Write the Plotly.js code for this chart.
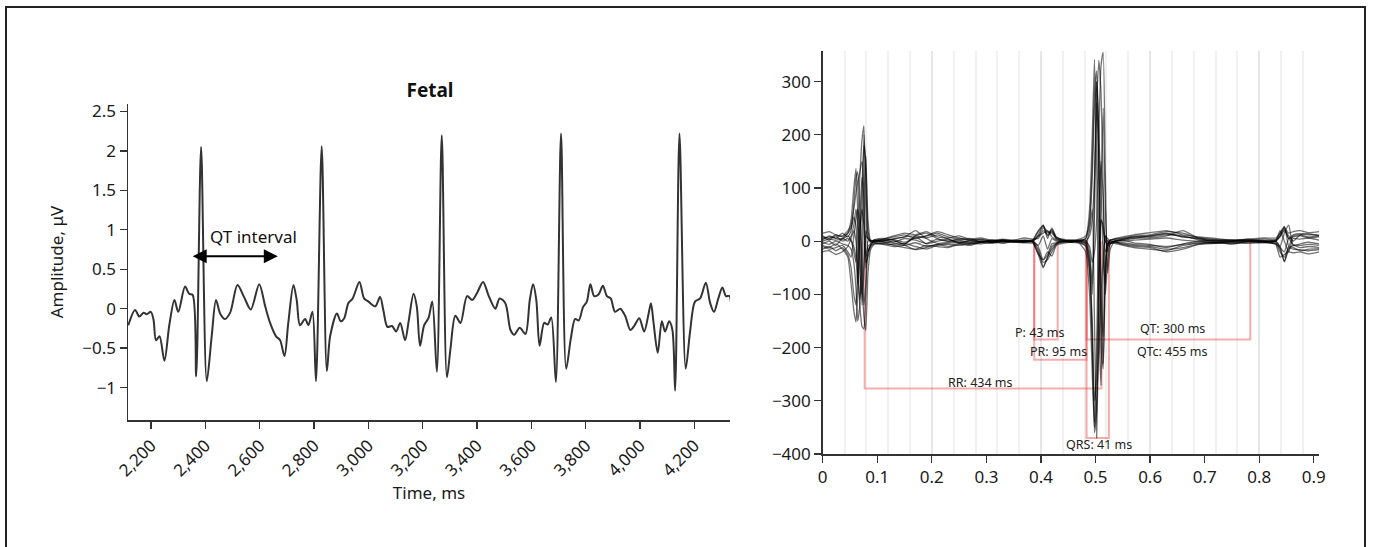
<!DOCTYPE html>
<html>
<head>
<meta charset="utf-8">
<script src="https://cdn.plot.ly/plotly-3.0.1.min.js"></script>
<style>html,body{margin:0;padding:0;background:#fff;}#chart{width:1373px;height:547px;}</style>
</head>
<body>
<div id="chart"></div>
<script>
// ---------- Left panel: fetal ECG ----------
const fetalTime = [2116,2141,2157,2172,2184,2199,2209,2218,2231,2249,2267,2286,2300,2325,2340,2353,2366,2384,2405,2423,2439,2454,2472,2491,2518,2542,2567,2598,2620,2638,2660,2675,2691,2705,2724,2736,2748,2767,2779,2794,2807,2828,2847,2859,2884,2898,2911,2926,2942,2967,2984,3000,3025,3043,3055,3070,3087,3102,3117,3135,3148,3166,3178,3190,3205,3221,3235,3252,3270,3289,3302,3320,3339,3363,3382,3400,3422,3443,3467,3483,3504,3523,3537,3557,3578,3594,3606,3618,3630,3647,3660,3673,3690,3709,3728,3745,3761,3774,3790,3804,3817,3831,3847,3863,3878,3892,3908,3927,3945,3964,3978,3997,4015,4031,4040,4049,4065,4080,4092,4107,4119,4129,4145,4168,4184,4202,4221,4242,4258,4272,4288,4303,4316,4329,4336];
const fetalAmp = [-0.21,-0.015,-0.10,-0.05,-0.07,-0.04,-0.14,-0.40,-0.35,-0.66,-0.21,0.11,-0.04,0.28,0.19,0.175,-0.86,2.05,-0.92,-0.35,0.11,-0.06,-0.13,-0.05,0.30,0.15,-0.01,0.31,0.03,-0.18,-0.35,-0.40,-0.60,-0.18,0.30,0.11,-0.21,-0.13,-0.21,-0.04,-0.92,2.06,-0.79,-0.35,-0.06,-0.16,-0.12,0.07,0.13,0.34,0.13,0.09,0.03,0.15,-0.02,-0.23,-0.22,-0.29,-0.18,-0.40,-0.16,0.19,0.03,-0.47,-0.21,-0.12,0.09,-0.80,2.20,-0.87,-0.51,-0.09,-0.18,0.16,0.11,0.20,0.34,0.16,0.0,0.13,0.07,-0.27,-0.33,-0.24,-0.32,0.11,0.31,0.11,-0.47,-0.18,-0.20,-0.11,-0.93,2.22,-0.76,-0.38,-0.13,-0.15,0.02,0.09,0.31,0.16,0.18,0.29,0.16,0.13,-0.04,0.0,-0.09,-0.27,-0.22,-0.12,-0.29,-0.07,0.07,-0.16,-0.56,-0.16,-0.29,-0.16,-0.27,-1.04,2.22,-0.76,-0.29,0.09,0.13,0.33,0.07,-0.04,0.13,0.27,0.16,0.16,-0.12];
const fetalTicks = [2200,2400,2600,2800,3000,3200,3400,3600,3800,4000,4200];
const qtArrowStart = 2353, qtArrowEnd = 2672, qtArrowLevel = 0.664;

// ---------- Right panel: overlaid beats ----------
const beatTime = [0,0.012,0.024,0.036,0.046,0.052,0.057,0.061,0.064,0.068,0.072,0.0755,0.079,0.083,0.088,0.095,0.11,0.13,0.15,0.17,0.19,0.21,0.23,0.25,0.27,0.29,0.31,0.33,0.35,0.37,0.385,0.395,0.404,0.412,0.42,0.428,0.44,0.455,0.47,0.482,0.489,0.494,0.498,0.502,0.506,0.51,0.514,0.518,0.522,0.527,0.535,0.55,0.57,0.6,0.63,0.66,0.69,0.72,0.75,0.78,0.81,0.83,0.838,0.846,0.854,0.862,0.875,0.89,0.91];
const beat1 = [5,8,6,4,10,2,-20,-40,20,120,190,217,60,-20,-5,0, 2,4,8,10,6,12,4,-3,2,0,-2,3,0,2, 0,12,30,10,18,4,0,-2,2, 0,-10,-40,-20,40,200,330,355,120,-60,-15,0,2,5, 10,14,8,6,2,0,4,0,0,10,27,5,8,10,6,8];
const beat2 = [-10,-15,-12,-8,-20,-30,10,40,60,30,-80,-140,-168,-60,-15,-5, -4,0,-6,8,-5,0,4,-4,0,-3,2,0,-2,0, -2,-15,-48,-30,-10,-4,0,2,0, -5,20,60,-150,-370,-150,40,30,0,-10,-4,0,2,-3, -6,-12,-5,0,-4,0,2,0,0,-10,-39,-15,-8,-12,-10,-12];
const beat3 = [0,4,2,5,15,40,100,137,60,-60,-100,-40,10,5,0,2, 0,3,-2,6,10,15,8,3,5,-2,0,2,-1,0, 2,8,25,15,22,5,2,0,0, 5,60,200,342,150,-150,-271,-60,10,5,0,0,3,8, 10,15,8,4,0,0,2,0,0,8,20,10,0,12,14,10];
const beat4 = [-8,-12,-5,-15,-30,-80,-130,-152,-100,20,60,30,-30,-10,-5,0, -2,-8,-12,-15,-8,-10,-12,-6,-8,-2,0,-4,0,-2, 0,-20,-40,-35,-20,-6,-2,0,-2, -10,-60,-150,-300,-250,-40,40,20,0,-5,-2,-4,-8,-12, -15,-18,-8,-4,-2,-6,0,-2,-4,-20,-30,-10,-12,-18,-15,-14];
const beat5 = [15,18,12,10,20,30,60,90,110,130,150,100,-40,-30,-8,0, 4,10,15,12,18,8,6,10,4,6,2,4,2,6, 4,5,20,12,20,8,4,2,4, 10,40,150,280,320,200,100,-30,-80,-10,2,5,8,12, 16,20,12,8,5,2,4,6,6,15,25,15,18,20,16,18];
const beat6 = [-20,-18,-25,-20,-10,5,20,0,-60,-120,-160,-165,-100,-20,-10,-5, -6,-10,-8,-16,-12,-6,-10,-4,-6,-2,-4,0,-2,-3, -4,-25,-35,-20,-28,-8,-4,-2,-4, -20,-100,-250,-350,-300,-200,-100,-30,10,0,-4,-2,-6,-10, -12,-20,-15,-6,-4,-2,-4,-2,-6,-30,-25,-20,-22,-20,-24,-20];
const beat7 = [8,2,10,0,5,0,-10,-30,-80,0,100,180,150,20,0,2, 2,-2,5,2,-4,4,0,2,-2,0,2,-1,1,0, 0,10,15,20,8,2,0,0,0, 0,10,40,120,260,340,280,100,-100,-40,-5,0,0,2, 4,6,2,0,2,0,0,1,0,20,0,-20,5,4,6,2];
const beat8 = [-5,0,-8,5,0,10,30,60,40,-20,-120,-60,20,5,0,-2, 0,5,8,20,5,-4,-2,0,-3,0,-2,0,2,0, 0,-8,10,-15,5,0,0,-2,0, -4,-30,-100,50,260,150,-200,-240,-50,-10,0,0,4,6, 6,10,20,5,0,0,0,-1,0,-10,15,30,-8,-5,-2,-5];
const beat9 = [10,5,12,8,15,25,45,30,-40,-110,-60,80,160,40,0,3, 5,2,-5,10,15,5,0,5,2,4,0,2,0,1, 3,20,30,5,25,8,2,0,1, 2,-20,-80,100,300,200,-100,-180,-40,-5,2,3,5,8, 8,12,10,2,0,1,0,0,2,15,28,-10,10,12,8,10];
const beat10 = [-15,-10,-18,-12,-25,-50,-100,-120,-60,50,120,80,-50,-20,-8,-3, -5,-6,-4,-10,-15,-8,-6,-8,-4,-5,-2,-3,-1,-2, -2,-25,-50,-30,-15,-5,-2,-1,-3, -8,-50,-200,-340,-200,50,150,80,-20,-8,-3,-2,-5,-8, -10,-15,-12,-5,-3,-4,-2,-3,-5,-15,-38,-12,-15,-16,-18,-16];
const beat11 = [2,10,5,15,8,20,70,120,130,60,-40,-120,-80,0,2,0, 3,8,12,5,10,18,12,6,2,3,0,1,0,2, 1,18,28,18,15,6,2,1,2, 5,30,120,250,300,100,-120,-230,-60,0,2,4,6,10, 12,18,15,6,3,3,2,4,3,10,22,5,12,14,12,12];
const beat12 = [-2,-6,0,-5,-8,-15,-40,-90,-150,-120,20,200,120,10,-3,-1, -1,-4,-8,-3,-10,-6,-4,-2,-5,-1,-2,0,-1,-1, -1,-10,-35,-25,-5,-3,0,0,-1, -3,-40,-180,-360,-320,-100,100,250,60,-20,-5,-2,-3,-6, -8,-10,-6,-2,-2,-3,-1,-2,-3,-12,-20,5,-6,-8,-6,-8];
const beats = [beat1, beat2, beat3, beat4, beat5, beat6, beat7, beat8, beat9, beat10, beat11, beat12];

// interval brackets (seconds, µV level)
const intervalNames = ['P','PR','RR','QRS','QT'];
const intervalStart = [0.3876, 0.3876, 0.0769, 0.4835, 0.4835];
const intervalEnd   = [0.4306, 0.4835, 0.5109, 0.5245, 0.7835];
const intervalLevel = [-185, -223, -277, -370, -185];
const intervalLabels = ['P: 43 ms','PR: 95 ms','RR: 434 ms','QRS: 41 ms','QT: 300 ms','QTc: 455 ms'];

const W = 1373, H = 547;
const FONT = 'Noto Sans, Open Sans, Arial, sans-serif';
const axisCommon = {showline:true, linecolor:'#333', linewidth:1.5, ticks:'outside', ticklen:7, tickwidth:1.3, tickcolor:'#333', showgrid:false, zeroline:false, fixedrange:true, tickfont:{size:17, color:'#1a1a1a'}};

const traces = [];
traces.push({x: fetalTime, y: fetalAmp, xaxis:'x', yaxis:'y', mode:'lines', line:{color:'#333', width:2, shape:'spline', smoothing:0.85}, hoverinfo:'skip'});

// red bracket lines on overlay axis (x3/y2)
intervalNames.forEach((n,i)=>{
  traces.push({x:[intervalStart[i], intervalStart[i], intervalEnd[i], intervalEnd[i]], y:[0, intervalLevel[i], intervalLevel[i], 0], xaxis:'x3', yaxis:'y2', mode:'lines', line:{color:'rgba(238,70,70,0.45)', width:2}, hoverinfo:'skip', name:n});
});
beats.forEach((b)=>{
  traces.push({x: beatTime, y: b, xaxis:'x3', yaxis:'y2', mode:'lines', line:{color:'rgba(0,0,0,0.55)', width:1.3, shape:'spline', smoothing:0.5}, hoverinfo:'skip'});
});

const labelPos = [[0.397,-171],[0.4316,-207.5],[0.289,-266],[0.506,-383],[0.6406,-163.5],[0.6406,-207]];
const annotations = [
  {xref:'x', yref:'y', x:qtArrowStart, y:qtArrowLevel, axref:'x', ayref:'y', ax:qtArrowEnd, ay:qtArrowLevel, text:'', showarrow:true, arrowhead:2, startarrowhead:2, arrowside:'end+start', arrowsize:1.4, startarrowsize:1.4, arrowwidth:2, arrowcolor:'#000', standoff:0, startstandoff:0},
  {xref:'x', yref:'y', x:2577, y:0.916, text:'QT interval', showarrow:false, font:{size:17, color:'#111'}}
];
intervalLabels.forEach((t,i)=>{
  annotations.push({xref:'x2', yref:'y2', x:labelPos[i][0], y:labelPos[i][1], text:t, showarrow:false, font:{size:12.5, color:'#222'}});
});

const layout = {
  width: W, height: H, margin:{l:0,r:0,t:0,b:0},
  paper_bgcolor:'#fff', plot_bgcolor:'rgba(0,0,0,0)', showlegend:false,
  font:{family:FONT, color:'#1a1a1a', size:17},
  title:{text:'<b>Fetal</b>', x:430/W, xanchor:'center', xref:'paper', y:1-90.7/H, yanchor:'middle', yref:'paper', font:{size:19, color:'#111'}},
  xaxis: Object.assign({}, axisCommon, {domain:[128/W, 730/W], anchor:'y', range:[2115,4331], tickvals:fetalTicks, tickformat:',d', tickangle:-45, title:{text:'Time, ms', standoff:2, font:{size:17}}}),
  yaxis: Object.assign({}, axisCommon, {domain:[1-420.4/H, 1-103.6/H], anchor:'x', range:[-1.416,2.60], tick0:0, dtick:0.5, title:{text:'Amplitude, μV', standoff:14, font:{size:17}}}),
  xaxis2: Object.assign({}, axisCommon, {domain:[822.7/W, 1319.3/W], anchor:'y2', range:[0,0.91], tick0:0, dtick:0.1}),
  yaxis2: Object.assign({}, axisCommon, {domain:[1-454/H, 1-50.7/H], anchor:'x2', range:[-400,358], tick0:0, dtick:100}),
  xaxis3: {overlaying:'x2', anchor:'y2', range:[0,0.91], tick0:0, dtick:0.2, showgrid:true, gridcolor:'#e6e6e6', gridwidth:2, showticklabels:false, ticks:'', showline:false, zeroline:false, fixedrange:true,
           minor:{tick0:0, dtick:0.04, showgrid:true, gridcolor:'#f1f1f1', gridwidth:2, ticks:''}},
  shapes:[{type:'rect', xref:'paper', yref:'paper', x0:6/W, x1:1365/W, y0:-0.05, y1:1-7/H, line:{color:'#222', width:2}, layer:'above'}],
  annotations: annotations
};

Plotly.newPlot('chart', traces, layout, {staticPlot:true, displayModeBar:false});
</script>
</body>
</html>
